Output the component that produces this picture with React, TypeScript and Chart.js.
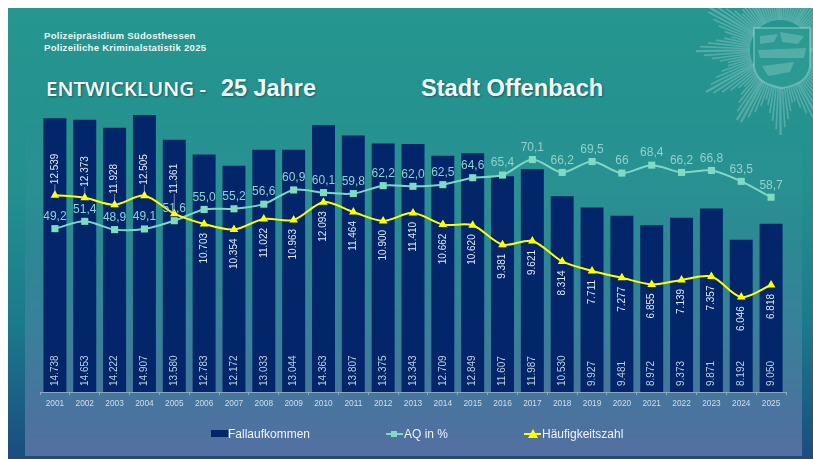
import React, { useEffect, useRef } from "react";
import { Chart, registerables } from "chart.js";

Chart.register(...registerables);

const years = ["2001","2002","2003","2004","2005","2006","2007","2008","2009","2010","2011","2012","2013","2014","2015","2016","2017","2018","2019","2020","2021","2022","2023","2024","2025"];
const fallaufkommen = [14738,14653,14222,14907,13580,12783,12172,13033,13044,14363,13807,13375,13343,12709,12849,11607,11987,10530,9927,9481,8972,9373,9871,8192,9050];
const aq = [49.2,51.4,48.9,49.1,51.6,55.0,55.2,56.6,60.9,60.1,59.8,62.2,62.0,62.5,64.6,65.4,70.1,66.2,69.5,66,68.4,66.2,66.8,63.5,58.7];
const aqLabels = ["49,2","51,4","48,9","49,1","51,6","55,0","55,2","56,6","60,9","60,1","59,8","62,2","62,0","62,5","64,6","65,4","70,1","66,2","69,5","66","68,4","66,2","66,8","63,5","58,7"];
const haeufigkeit = [12539,12373,11928,12505,11361,10703,10354,11022,10963,12093,11464,10900,11410,10662,10620,9381,9621,8314,7711,7277,6855,7139,7357,6046,6818];

const FONT = '"Liberation Sans", Arial, sans-serif';
const fmt = (v: number) => String(v).replace(/(\d)(\d{3})$/, "$1.$2");

const labelPlugin = {
  id: "valueLabels",
  afterDatasetsDraw(chart: any) {
    const ctx = chart.ctx;
    const vertical = (text: string, x: number, y: number, align: CanvasTextAlign) => {
      ctx.save();
      ctx.translate(x, y);
      ctx.rotate(-Math.PI / 2);
      ctx.textAlign = align;
      ctx.textBaseline = "middle";
      ctx.fillText(text, 0, 0);
      ctx.restore();
    };
    ctx.save();
    ctx.font = `10px ${FONT}`;
    ctx.fillStyle = "#bccfdd";
    chart.getDatasetMeta(0).data.forEach((b: any, i: number) => {
      vertical(fmt(fallaufkommen[i]), b.x, b.base - 6, "left");
    });
    ctx.fillStyle = "#dfe8ee";
    chart.getDatasetMeta(2).data.forEach((p: any, i: number) => {
      if (i < 5) {
        const gap = i === 4 ? 20 : 11;
        ctx.strokeStyle = "rgba(230,240,240,0.7)";
        ctx.lineWidth = 0.7;
        ctx.beginPath();
        ctx.moveTo(p.x, p.y);
        ctx.lineTo(p.x, p.y - gap);
        ctx.stroke();
        vertical(fmt(haeufigkeit[i]), p.x, p.y - gap, "left");
      } else {
        vertical(fmt(haeufigkeit[i]), p.x, p.y + 9, "right");
      }
    });
    ctx.font = `12px ${FONT}`;
    ctx.fillStyle = "#8fd2ca";
    ctx.textAlign = "center";
    ctx.textBaseline = "middle";
    chart.getDatasetMeta(1).data.forEach((p: any, i: number) => {
      ctx.fillText(aqLabels[i], p.x, p.y - 12);
    });
    ctx.restore();
  },
};

function Star() {
  const cx = 772, cy = 42;
  const rays: React.ReactNode[] = [];
  for (let a = 0; a < 360; a += 3.2) {
    const off = ((a % 30) + 30) % 30;
    const d = Math.min(off, 30 - off) / 15;
    const r = 86 - 36 * d;
    const rad = (a * Math.PI) / 180;
    rays.push(
      <line key={a} x1={cx + 30 * Math.cos(rad)} y1={cy + 30 * Math.sin(rad)} x2={cx + r * Math.cos(rad)} y2={cy + r * Math.sin(rad)} stroke="#fff" strokeOpacity={0.22} strokeWidth={d < 0.12 ? 2.4 : 1.7} />
    );
  }
  return (
    <svg width={805} height={451} style={{ position: "absolute", left: 0, top: 0 }}>
      {rays}
      <path d="M 746 20 L 802 20 L 802 58 Q 800 76 774 80 Q 748 76 746 58 Z" fill="#2a9a92" />
      <path d="M 746 20 L 802 20 L 802 58 Q 800 76 774 80 Q 748 76 746 58 Z" fill="none" stroke="#fff" strokeOpacity={0.25} strokeWidth={2} />
      <path d="M 752 28 L 770 26 L 766 34 L 752 36 Z M 772 24 L 796 28 L 790 36 L 774 34 Z M 750 42 L 798 40 L 796 50 L 752 50 Z M 754 58 L 786 54 L 782 64 L 760 68 Z" fill="#fff" fillOpacity={0.2} />
    </svg>
  );
}

const abs = (s: React.CSSProperties): React.CSSProperties => ({ position: "absolute", whiteSpace: "nowrap", ...s });
const shadow = "1px 1px 2px rgba(0,50,60,0.55)";

export default function App() {
  const ref = useRef<HTMLCanvasElement>(null);
  useEffect(() => {
    document.documentElement.style.overflow = "hidden";
    const chart = new Chart(ref.current!, {
      type: "bar",
      data: {
        labels: years,
        datasets: [
          { type: "bar", label: "Fallaufkommen", data: fallaufkommen, yAxisID: "yFall", order: 3, backgroundColor: "#03266b", barPercentage: 0.77, categoryPercentage: 1 },
          { type: "line", label: "AQ in %", data: aq, yAxisID: "yAq", order: 2, borderColor: "#7fd9c2", backgroundColor: "#7fdcc2", borderWidth: 2, tension: 0.3, pointStyle: "rect", pointRadius: 5, pointBorderWidth: 0 },
          { type: "line", label: "Häufigkeitszahl", data: haeufigkeit, yAxisID: "yHz", order: 1, borderColor: "#ffff00", backgroundColor: "#ffff00", borderWidth: 2, tension: 0.3, pointStyle: "triangle", pointRadius: 5, pointBorderWidth: 0 },
        ] as any,
      },
      options: {
        responsive: false,
        animation: false,
        layout: { padding: { left: 32, right: 27, top: 92, bottom: 47 } },
        plugins: { legend: { display: false }, tooltip: { enabled: false } },
        scales: {
          x: {
            afterFit: (s: any) => { s.height = 20; },
            grid: { drawOnChartArea: false, color: "rgba(190,205,215,0.6)", tickLength: 3, offset: true },
            border: { color: "rgba(190,205,215,0.6)" },
            ticks: { color: "#d2dee6", font: { family: FONT, size: 8.3 }, padding: 4, maxRotation: 0, autoSkip: false },
          },
          yFall: { display: false, min: 0, max: 15715 },
          yAq: { display: false, min: -0.2, max: 88.1 },
          yHz: { display: false, min: 0, max: 18600 },
        },
      },
      plugins: [labelPlugin],
    } as any);
    return () => chart.destroy();
  }, []);

  const legendText: React.CSSProperties = { top: 419, fontFamily: FONT, fontSize: 12, lineHeight: "14px", color: "#eef3f6" };
  return (
    <div style={{ position: "fixed", left: 8, top: 8, width: 805, height: 451, overflow: "hidden", background: "linear-gradient(180deg,#26968f 0%,#23908f 40%,#1b7a8c 70%,#1b4c80 100%)" }}>
      <div style={{ position: "absolute", left: 17, top: 100, width: 777, height: 348, background: "linear-gradient(180deg,rgba(130,150,190,0) 0%,rgba(130,150,190,0.12) 40%,rgba(130,150,190,0.38) 78%,rgba(130,140,190,0.55) 100%)" }} />
      <Star />
      <div style={abs({ left: 36, top: 22, fontFamily: FONT, fontSize: 9.6, fontWeight: 700, lineHeight: "12px", color: "#eaf4f2", letterSpacing: 0.25 })}>
        Polizeipräsidium Südosthessen<br />Polizeiliche Kriminalstatistik 2025
      </div>
      <div style={abs({ left: 38, top: 67, fontFamily: '"Open Sans", sans-serif', fontSize: 20.5, fontWeight: 600, lineHeight: "26px", color: "#fff", textShadow: shadow })}>ENTWICKLUNG -</div>
      <div style={abs({ left: 213, top: 67, fontFamily: FONT, fontSize: 23.4, fontWeight: 700, lineHeight: "26px", color: "#f4f9f8", textShadow: shadow })}>25 Jahre</div>
      <div style={abs({ left: 413, top: 67, fontFamily: FONT, fontSize: 23.6, fontWeight: 700, lineHeight: "26px", color: "#f4f9f8", textShadow: shadow })}>Stadt Offenbach</div>
      <canvas ref={ref} width={805} height={451} style={{ position: "absolute", left: 0, top: 0, display: "block" }} />
      <div style={abs({ left: 203, top: 422, width: 17, height: 7, background: "#03266b" })} />
      <div style={abs({ ...legendText, left: 220 })}>Fallaufkommen</div>
      <div style={abs({ left: 378, top: 425, width: 17, height: 2, background: "#7fd9c2" })} />
      <div style={abs({ left: 383, top: 423, width: 6, height: 6, background: "#7fdcc2" })} />
      <div style={abs({ ...legendText, left: 396 })}>AQ in %</div>
      <div style={abs({ left: 516, top: 425, width: 17, height: 2, background: "#ffff00" })} />
      <div style={abs({ left: 520, top: 421, width: 0, height: 0, borderLeft: "5px solid transparent", borderRight: "5px solid transparent", borderBottom: "9px solid #ffff00" })} />
      <div style={abs({ ...legendText, left: 534 })}>Häufigkeitszahl</div>
    </div>
  );
}
